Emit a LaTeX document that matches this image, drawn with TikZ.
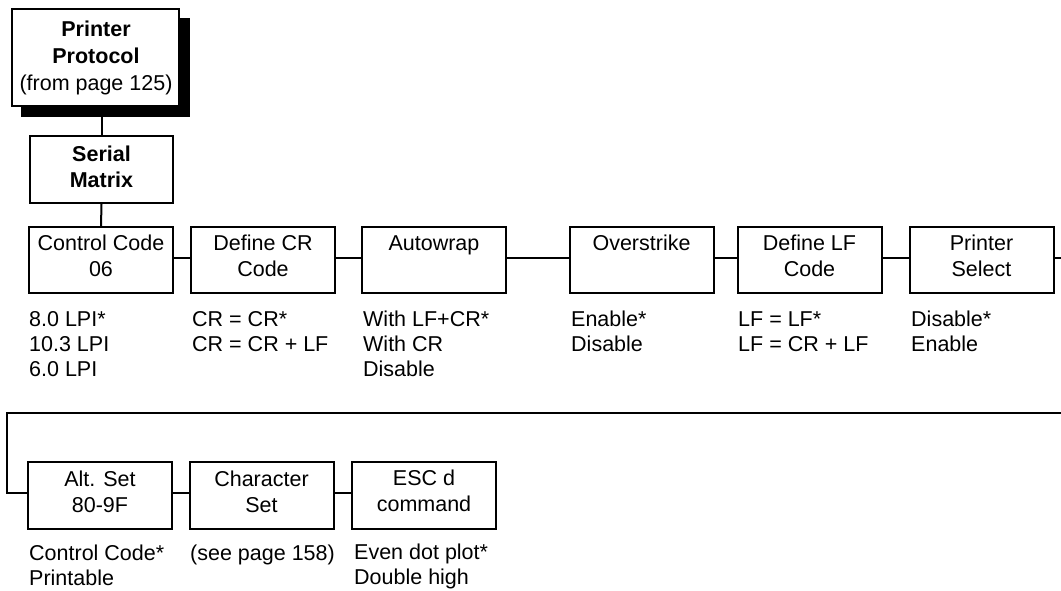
\documentclass[tikz,border=0pt]{standalone}
\usepackage{fontspec}
\setmainfont{Liberation Sans}
\newcommand{\ctext}[1]{\begin{tabular}[t]{@{}c@{}}#1\end{tabular}}
\newcommand{\ltext}[1]{\begin{tabular}[t]{@{}l@{}}#1\end{tabular}}
\tikzset{
  box/.style={draw, line width=2pt, fill=white, minimum width=144pt, minimum height=66pt, inner sep=0pt},
  txt/.style={inner sep=0pt, anchor=base, font=\fontsize{21.5}{26}\selectfont},
  opt/.style={inner sep=0pt, anchor=base west, font=\fontsize{21.5}{25}\selectfont},
  conn/.style={line width=2pt},
}
\begin{document}
\begin{tikzpicture}[x=1pt, y=-1pt]
\useasboundingbox (0,0) rectangle (1061,591);
% helper coordinates
\coordinate (r1) at (0,258);
\coordinate (r2) at (0,493);
\coordinate (r1end) at (1061,258);
\coordinate (lpR) at (1061,413);
\coordinate (lpL) at (7,413);

% top boxes
\node[box, draw=none, fill=none, minimum width=167pt, minimum height=97pt] (pp0) at (95.5,57.5) {};
\fill ([shift={(10,10)}]pp0.north west) rectangle ([shift={(10,10)}]pp0.south east);
\node[box, minimum width=167pt, minimum height=97pt] (pp) at (95.5,57.5) {};
\node[box, minimum width=143pt, minimum height=67pt] (sm) at (101.5,169.5) {};

% row 1 boxes
\node[box] (cc)  at (101,260) {};
\node[box] (dcr) at (263,260) {};
\node[box] (aw)  at (434,260) {};
\node[box] (ov)  at (641.5,260) {};
\node[box] (dlf) at (809.5,260) {};
\node[box] (ps)  at (981.5,260) {};

% row 2 boxes
\node[box, minimum height=67pt] (alt) at (100,495.5) {};
\node[box, minimum height=67pt] (chs) at (261.5,495.5) {};
\node[box, minimum height=67pt] (esc) at (424,495.5) {};

% connectors
\draw[conn] (sm.north) -- (sm.north |- pp.south);
\draw[conn] (sm.south) -- (cc.north);
\draw[conn] (cc.east |- r1) -- (dcr.west |- r1);
\draw[conn] (dcr.east |- r1) -- (aw.west |- r1);
\draw[conn] (aw.east |- r1) -- (ov.west |- r1);
\draw[conn] (ov.east |- r1) -- (dlf.west |- r1);
\draw[conn] (dlf.east |- r1) -- (ps.west |- r1);
\draw[conn] (ps.east |- r1) -- (r1end);
\draw[conn] (lpR) -- (lpL) |- (alt.west |- r2);
\draw[conn] (alt.east |- r2) -- (chs.west |- r2);
\draw[conn] (chs.east |- r2) -- (esc.west |- r2);

% box texts
\node[txt, font=\fontsize{21.5}{27}\selectfont] (ppt) at (96,37) {\ctext{\bfseries Printer\\\bfseries Protocol\\(from page 125)}};
\node[txt] (smt) at (101.5,162) {\ctext{\bfseries Serial\\\bfseries Matrix}};
\node[txt] (cct)  at (101,251) {\ctext{Control Code\\06}};
\node[txt] (dcrt) at (263,251) {\ctext{Define CR\\Code}};
\node[txt] (awt)  at (434,251) {Autowrap};
\node[txt] (ovt)  at (641.5,251) {Overstrike};
\node[txt] (dlft) at (809.5,251) {\ctext{Define LF\\Code}};
\node[txt] (pst)  at (981.5,251) {\ctext{Printer\\Select}};
\node[txt] (altt) at (100,486) {\ctext{Alt. Set\\80-9F}};
\node[txt] (chst) at (261.5,486) {\ctext{Character\\Set}};
\node[txt] (esct) at (424,485) {\ctext{ESC d\\command}};

% option texts
\node[opt] (cco)  at (29,326) {\ltext{8.0 LPI*\\10.3 LPI\\6.0 LPI}};
\node[opt] (dcro) at (192,326) {\ltext{CR = CR*\\CR = CR + LF}};
\node[opt] (awo)  at (363,326) {\ltext{With LF+CR*\\With CR\\Disable}};
\node[opt] (ovo)  at (571,326) {\ltext{Enable*\\Disable}};
\node[opt] (dlfo) at (738,326) {\ltext{LF = LF*\\LF = CR + LF}};
\node[opt] (pso)  at (911,326) {\ltext{Disable*\\Enable}};
\node[opt] (alto) at (29,560) {\ltext{Control Code*\\Printable}};
\node[opt] (chso) at (190,560) {(see page 158)};
\node[opt] (esco) at (354,559) {\ltext{Even dot plot*\\Double high}};
\end{tikzpicture}
\end{document}
